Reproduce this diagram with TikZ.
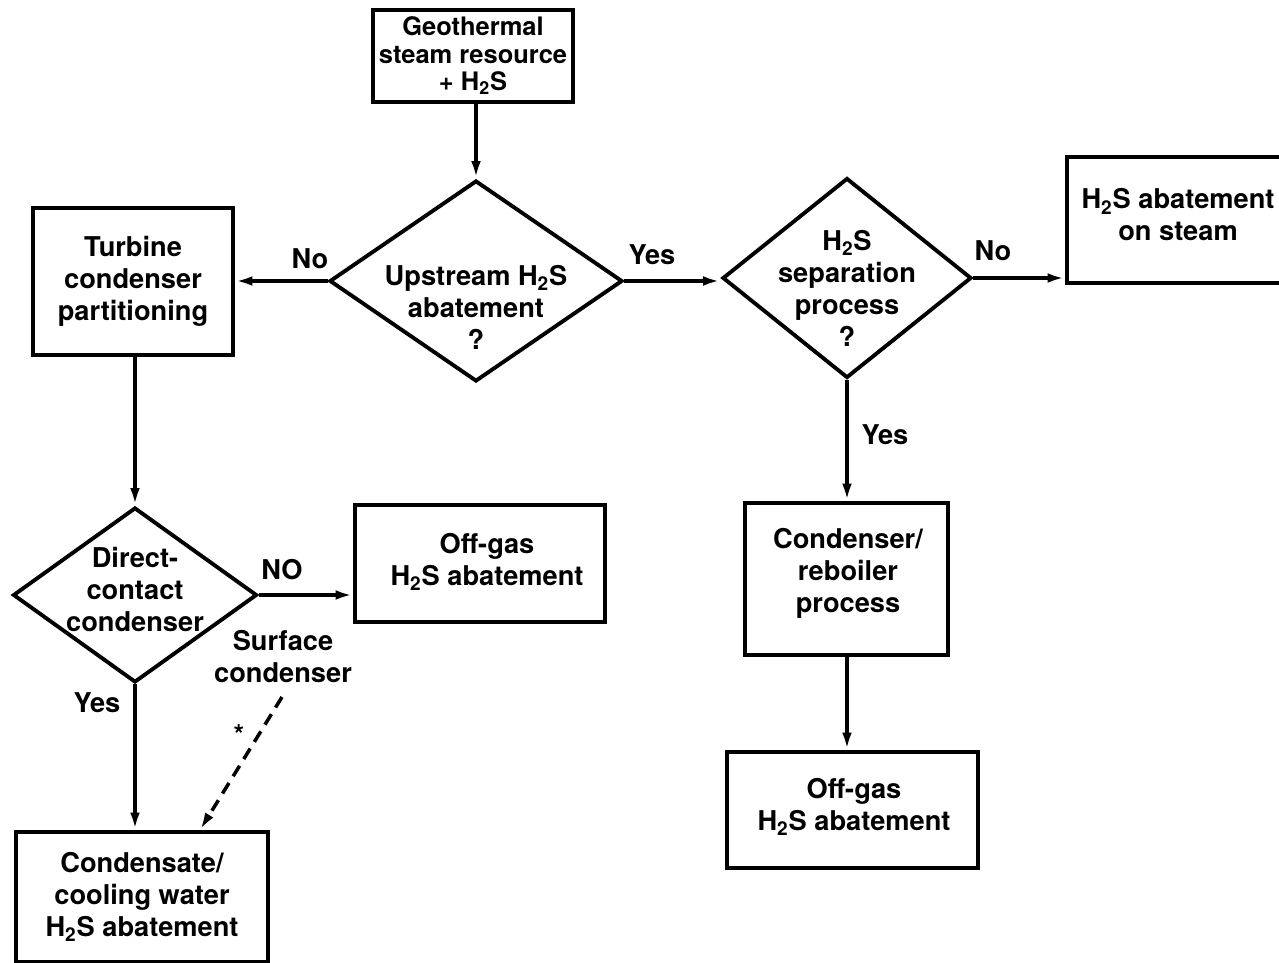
\documentclass[tikz,border=0pt]{standalone}
\usepackage{fontspec}
\setmainfont{TeX Gyre Heros}
\usetikzlibrary{arrows.meta,shapes.geometric}
\newcommand{\HtwoS}{H\textsubscript{2}S}

\begin{document}
\begin{tikzpicture}[
    x=0.02cm, y=-0.02cm,
    >={Latex[length=10pt,width=5.5pt]},
    every node/.style={font=\bfseries\fontsize{15.5}{18.2}\selectfont},
    procbox/.style={draw, line width=2.2pt, align=center, inner sep=0pt},
    decision/.style={draw, diamond, line width=2.2pt, inner sep=0pt},
    dtext/.style={align=center, inner sep=0pt},
    flow/.style={->, line width=2pt}
]
\useasboundingbox (0,0) rectangle (1279,963);

% boxes
\node[procbox, minimum width=4.0cm, minimum height=1.84cm,
      font=\bfseries\fontsize{14.5}{15.6}\selectfont] (geo) at (473,56) {Geothermal\\steam resource\\+ \HtwoS};
\node[procbox, minimum width=4.0cm, minimum height=2.94cm] (turb) at (133,281.5) {Turbine\\condenser\\partitioning};
\node[procbox, minimum width=4.46cm, minimum height=2.52cm] (steam) at (1178.5,220) {};
\node[dtext] (steamt) at (1178,215) {\HtwoS{} abatement\\on steam};
\node[procbox, minimum width=5.0cm, minimum height=2.34cm] (offl) at (480,563.5) {};
\node[dtext] (offlt) at (487,562) {Off-gas\\\HtwoS{} abatement};
\node[procbox, minimum width=5.04cm, minimum height=2.6cm] (cond) at (142,897) {Condensate/\\cooling water\\\HtwoS{} abatement};
\node[procbox, minimum width=4.06cm, minimum height=3.04cm] (creb) at (846.5,579) {};
\node[dtext] (crebt) at (848,573) {Condenser/\\reboiler\\process};
\node[procbox, minimum width=5.02cm, minimum height=2.32cm] (offr) at (852.5,810) {};
\node[dtext] (offrt) at (854,807) {Off-gas\\\HtwoS{} abatement};

% decisions
\node[decision, minimum width=5.86cm, minimum height=4.02cm] (up) at (476,281) {};
\node[dtext] (upt) at (476,307) {Upstream \HtwoS\\abatement\\?};
\node[decision, minimum width=4.98cm, minimum height=4.0cm] (sep) at (847,278) {};
\node[dtext] (sept) at (847,288) {\HtwoS\\separation\\process\\?};
\node[decision, minimum width=4.88cm, minimum height=3.5cm] (dcc) at (135,595) {};
\node[dtext] (dcct) at (135,589) {Direct-\\contact\\condenser};

% connectors
\draw[flow] (up.north |- geo.south) -- (up.north);
\draw[flow] (up.west) -- (up.west -| turb.east);
\draw[flow] (up.east) -- (up.east -| sep.west);
\draw[flow] (sep.east) -- (sep.east -| steam.west);
\draw[flow] (sep.south) -- (sep.south |- creb.north);
\draw[flow] (sep.south |- creb.south) -- (sep.south |- offr.north);
\draw[flow] (dcc.north |- turb.south) -- (dcc.north);
\draw[flow] (dcc.east) -- (dcc.east -| offl.west);
\draw[flow] (dcc.south) -- (dcc.south |- cond.north);
\coordinate (sfc) at (282,697);
\draw[flow, dash pattern=on 7pt off 4.5pt] (sfc) -- ([xshift=1.16cm]cond.north);

% answers
\node (no1) at (310,259) {No};
\node (yes1) at (652,255) {Yes};
\node (no2) at (993,251) {No};
\node (yes2) at (885,435) {Yes};
\node (no3) at (282,570) {NO};
\node[align=center] (surf) at (283,657) {Surface\\condenser};
\node (yes3) at (97,703) {Yes};
\node (star) at (239,735) {*};
\end{tikzpicture}
\end{document}
